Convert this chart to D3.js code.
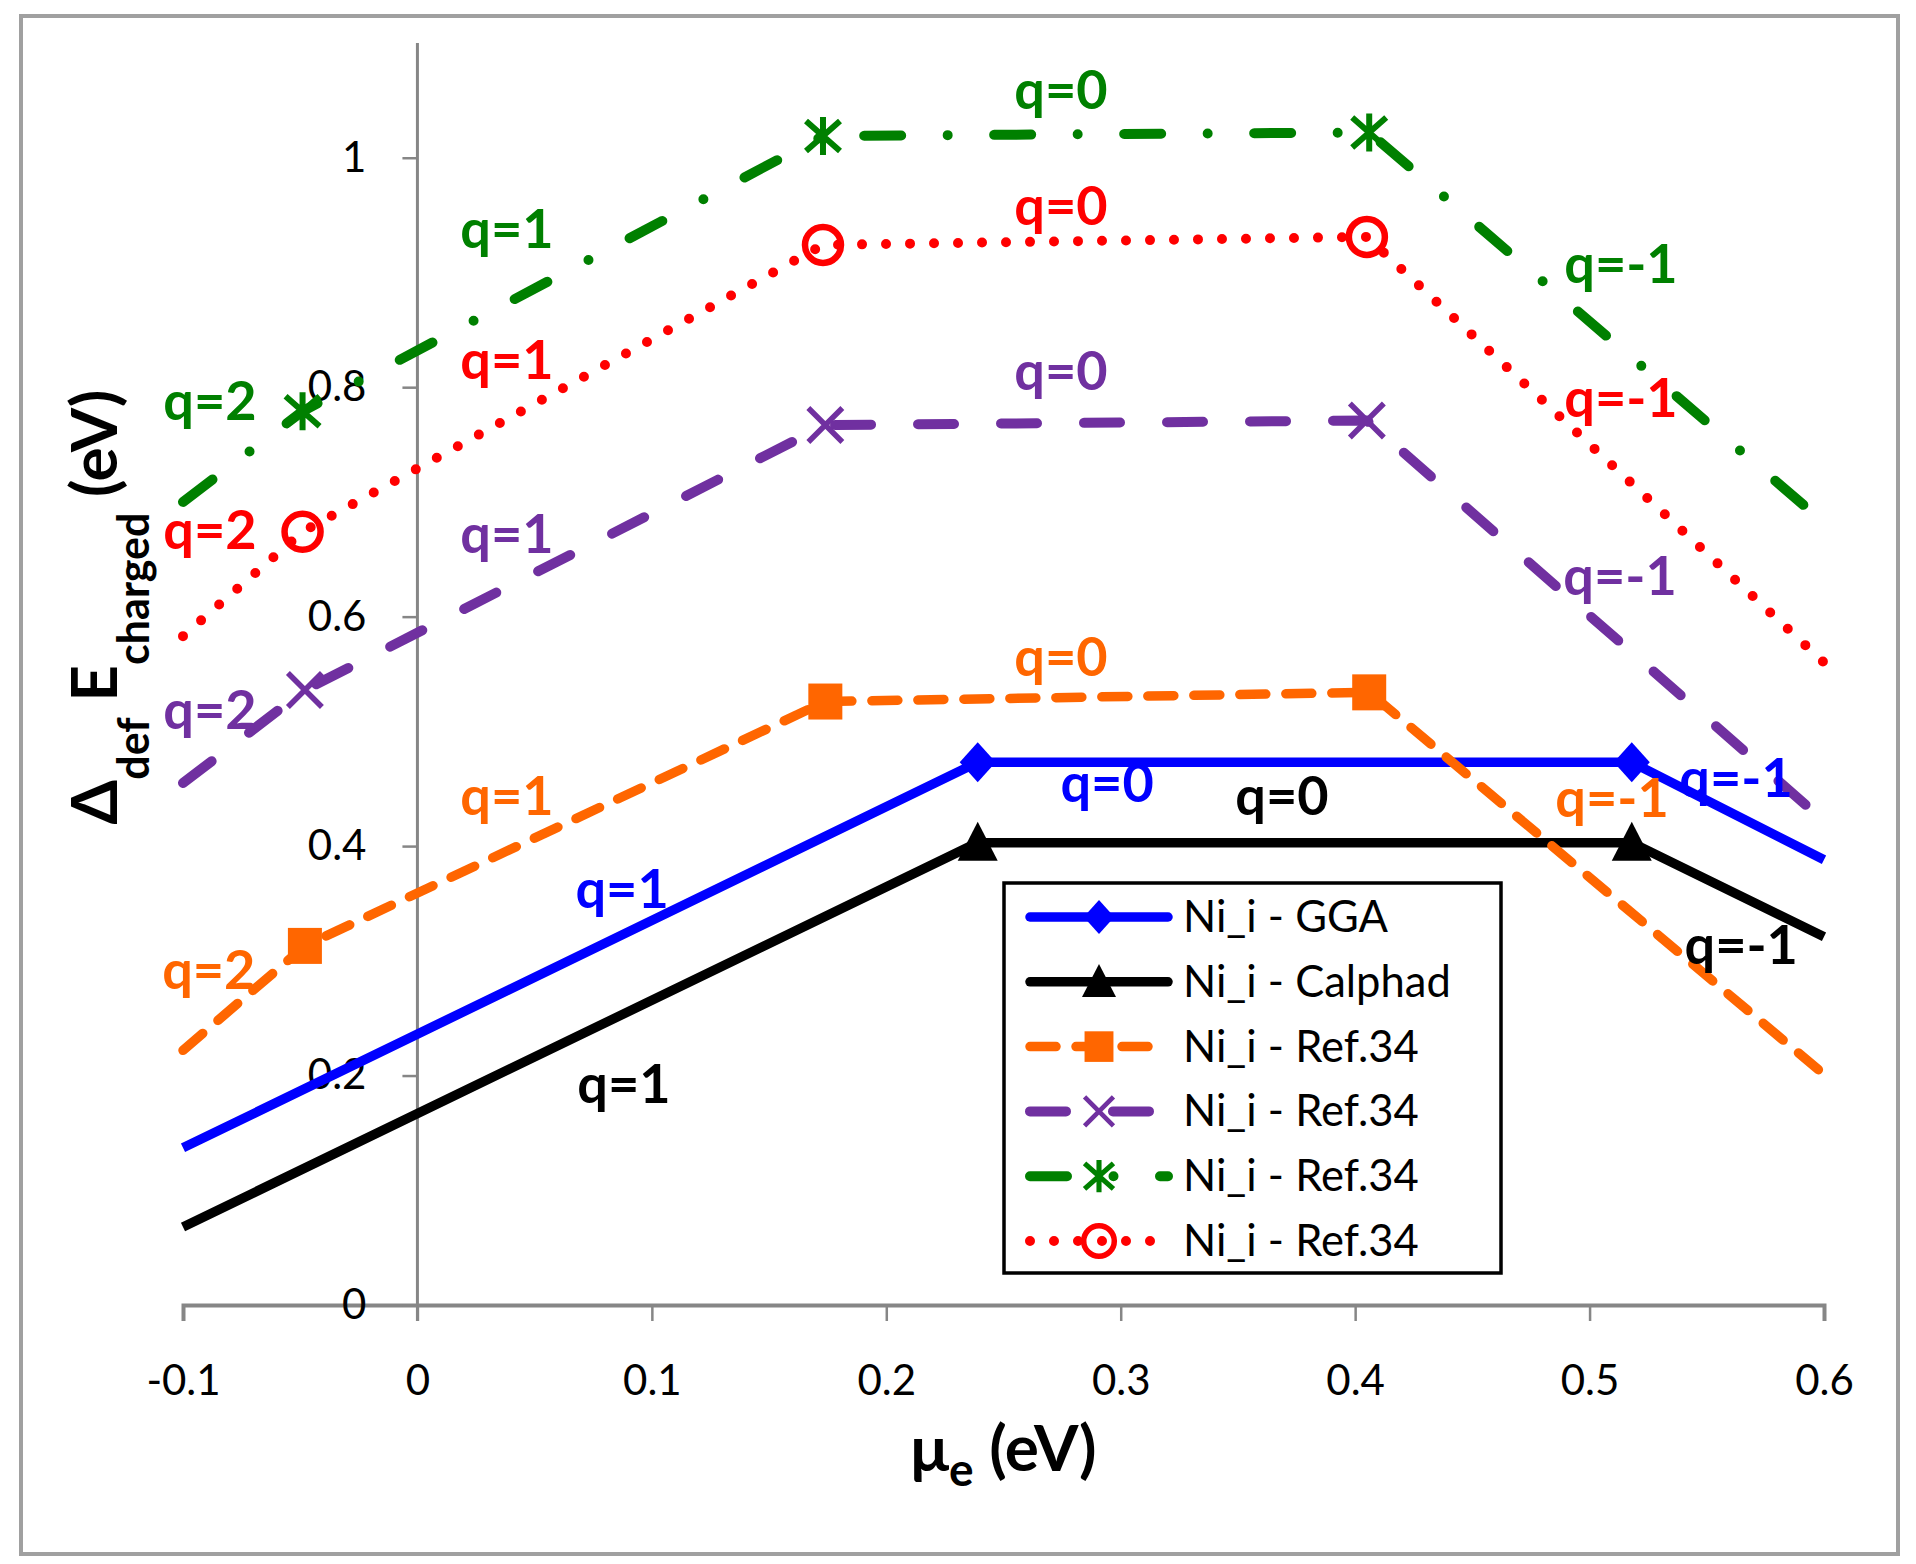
<!DOCTYPE html>
<html><head><meta charset="utf-8">
<script src="https://cdn.jsdelivr.net/npm/d3@7/dist/d3.min.js"></script>
<style>html,body{margin:0;padding:0;background:#fff}</style>
</head><body>
<svg id="chart" width="1916" height="1564"></svg>
<script>
// ---------- data ----------
const xTicks = [-0.1, 0, 0.1, 0.2, 0.3, 0.4, 0.5, 0.6];
const xTickLabels = ["-0.1", "0", "0.1", "0.2", "0.3", "0.4", "0.5", "0.6"];
const yTicks = [0, 0.2, 0.4, 0.6, 0.8, 1];
const yTickLabels = ["0", "0.2", "0.4", "0.6", "0.8", "1"];

const seriesNames = ["Ni_i - GGA", "Ni_i - Calphad", "Ni_i - Ref.34", "Ni_i - Ref.34", "Ni_i - Ref.34", "Ni_i - Ref.34"];

const ggaX = [-0.1, 0.239, 0.518, 0.6];
const ggaY = [0.137, 0.473, 0.473, 0.388];
const calphadX = [-0.1, 0.239, 0.518, 0.6];
const calphadY = [0.068, 0.403, 0.403, 0.321];
const ref34aX = [-0.1, -0.048, 0.174, 0.406, 0.6];
const ref34aY = [0.222, 0.313, 0.526, 0.534, 0.201];
const ref34bX = [-0.1, -0.048, 0.174, 0.405, 0.6];
const ref34bY = [0.455, 0.536, 0.767, 0.771, 0.422];
const ref34cX = [-0.1, -0.049, 0.173, 0.406, 0.6];
const ref34cY = [0.700, 0.779, 1.019, 1.022, 0.682];
const ref34dX = [-0.1, -0.049, 0.173, 0.405, 0.6];
const ref34dY = [0.583, 0.674, 0.924, 0.931, 0.560];

// charge-state annotations: [text, series index, x, y] (data units: centre x, baseline y)
const qLabels = [
  ["q=2", 4, -0.0885, 0.771], ["q=1", 4, 0.0382, 0.9215], ["q=0", 4, 0.2745, 1.0427], ["q=-1", 4, 0.5134, 0.891],
  ["q=2", 5, -0.0885, 0.659], ["q=1", 5, 0.0382, 0.807], ["q=0", 5, 0.2745, 0.9416], ["q=-1", 5, 0.5134, 0.7742],
  ["q=2", 3, -0.0885, 0.502], ["q=1", 3, 0.0382, 0.6556], ["q=0", 3, 0.2745, 0.7977], ["q=-1", 3, 0.513, 0.619],
  ["q=2", 2, -0.0890, 0.2755], ["q=1", 2, 0.0382, 0.427], ["q=0", 2, 0.2745, 0.5484], ["q=-1", 2, 0.5096, 0.4255],
  ["q=1", 0, 0.0873, 0.346], ["q=0", 0, 0.2942, 0.4385], ["q=-1", 0, 0.5625, 0.4429],
  ["q=1", 1, 0.0881, 0.176], ["q=0", 1, 0.3688, 0.4272], ["q=-1", 1, 0.5647, 0.2973]
];

// ---------- styles ----------
const styles = [
  {color: "#0000ff", width: 9.5, dash: null, marker: "diamond"},
  {color: "#000000", width: 9.5, dash: null, marker: "triangle"},
  {color: "#ff6600", width: 9.5, dash: "26,20", marker: "square"},
  {color: "#7030a0", width: 10, dash: "36,47", marker: "x"},
  {color: "#008000", width: 10, dash: "37,46.5,0,46.5", marker: "star"},
  {color: "#ff0000", width: 10, dash: "0,24", marker: "circle"}
];
const seriesX = [ggaX, calphadX, ref34aX, ref34bX, ref34cX, ref34dX];
const seriesY = [ggaY, calphadY, ref34aY, ref34bY, ref34cY, ref34dY];

const FONT = "Lato, 'Open Sans', 'DejaVu Sans', sans-serif";
const svg = d3.select("#chart");

// outer frame
svg.append("rect").attr("x", 21).attr("y", 16).attr("width", 1877).attr("height", 1538)
  .attr("fill", "#fff").attr("stroke", "#a0a0a0").attr("stroke-width", 4);

const x = d3.scaleLinear().domain([-0.1, 0.6]).range([183, 1824]);
const y = d3.scaleLinear().domain([0, 1.1]).range([1305, 43]);

// axes
const axisColor = "#868686";
const gx = svg.append("g").attr("transform", `translate(0,${y(0)})`)
  .call(d3.axisBottom(x).tickValues(xTicks).tickSize(16).tickFormat((d, i) => xTickLabels[i]).tickPadding(44));
gx.select(".domain").attr("stroke", axisColor).attr("stroke-width", 4);
gx.selectAll(".tick line").attr("stroke", axisColor).attr("stroke-width", 2.5);
gx.selectAll(".tick text").attr("font-family", FONT).attr("font-size", 42).attr("fill", "#000");

const gy = svg.append("g").attr("transform", `translate(${x(0)},0)`)
  .call(d3.axisLeft(y).tickValues(yTicks).tickSize(15).tickSizeOuter(0).tickFormat((d, i) => yTickLabels[i]).tickPadding(36));
gy.select(".domain").attr("stroke", axisColor).attr("stroke-width", 3).attr("d", `M0,${y(1.1)}V${y(0) + 16}`);
gy.selectAll(".tick line").attr("stroke", axisColor).attr("stroke-width", 2.5);
gy.selectAll(".tick text").attr("font-family", FONT).attr("font-size", 42).attr("fill", "#000");

// marker drawing
function drawMarker(g, type, color, cx, cy, s) {
  s = s || 1;
  const m = g.append("g").attr("transform", `translate(${cx},${cy}) scale(${s})`);
  if (type === "diamond") {
    m.append("path").attr("d", "M0,-20L18,0L0,20L-18,0Z").attr("fill", color);
  } else if (type === "triangle") {
    m.append("path").attr("d", "M0,-21L20,18L-20,18Z").attr("fill", color);
  } else if (type === "square") {
    m.append("rect").attr("x", -17).attr("y", -18).attr("width", 34).attr("height", 36).attr("fill", color);
  } else if (type === "x") {
    m.append("path").attr("d", "M-17,-17L17,17M17,-17L-17,17").attr("stroke", color).attr("stroke-width", 5.5).attr("fill", "none");
  } else if (type === "star") {
    m.append("path").attr("d", "M-17,-15L17,15M17,-15L-17,15M0,-19V19").attr("stroke", color).attr("stroke-width", 6).attr("fill", "none");
  } else if (type === "circle") {
    m.append("circle").attr("r", 18).attr("stroke", color).attr("stroke-width", 6.5).attr("fill", "none");
  }
}

// series lines + markers
const line = d3.line().x(d => x(d[0])).y(d => y(d[1]));
seriesX.forEach((xs, i) => {
  const st = styles[i];
  const pts = xs.map((v, k) => [v, seriesY[i][k]]);
  const g = svg.append("g");
  g.append("path").datum(pts).attr("d", line).attr("fill", "none")
    .attr("stroke", st.color).attr("stroke-width", st.width)
    .attr("stroke-dasharray", st.dash).attr("stroke-linecap", st.dash ? "round" : "butt")
    .attr("stroke-linejoin", "round");
  pts.slice(1, -1).forEach(p => drawMarker(g, st.marker, st.color, x(p[0]), y(p[1])));
});

// charge-state labels
svg.append("g").selectAll("text").data(qLabels).join("text")
  .attr("x", d => x(d[2])).attr("y", d => y(d[3]))
  .attr("text-anchor", "middle").attr("font-family", FONT).attr("font-weight", "bold")
  .attr("font-size", 54).attr("fill", d => styles[d[1]].color).text(d => d[0]);

// legend
const lg = svg.append("g");
lg.append("rect").attr("x", 1004).attr("y", 883).attr("width", 497).attr("height", 390)
  .attr("fill", "#fff").attr("stroke", "#000").attr("stroke-width", 3.5);
seriesNames.forEach((name, i) => {
  const st = styles[i];
  const cy = 917 + i * 64.8;
  lg.append("line").attr("x1", 1030).attr("x2", 1168).attr("y1", cy).attr("y2", cy)
    .attr("stroke", st.color).attr("stroke-width", st.width)
    .attr("stroke-dasharray", st.dash).attr("stroke-linecap", "round");
  drawMarker(lg, st.marker, st.color, 1099, cy, 0.85);
  lg.append("text").attr("x", 1183).attr("y", cy + 15).attr("font-family", FONT)
    .attr("font-size", 43.5).attr("fill", "#000").text(name);
});

// axis titles
const xt = svg.append("text").attr("x", (x(-0.1) + x(0.6)) / 2).attr("y", 1471)
  .attr("text-anchor", "middle").attr("font-family", FONT).attr("font-weight", "bold").attr("font-size", 64).attr("fill", "#000");
xt.append("tspan").text("μ");
xt.append("tspan").attr("font-size", 46).attr("dy", 15).text("e");
xt.append("tspan").attr("dy", -15).text(" (eV)");

const yt = svg.append("text").attr("transform", "translate(117,607) rotate(-90)")
  .attr("text-anchor", "middle").attr("font-family", FONT).attr("font-weight", "bold").attr("font-size", 64).attr("fill", "#000");
yt.append("tspan").text("Δ");
yt.append("tspan").attr("font-size", 43).attr("dy", 32).text("def");
yt.append("tspan").attr("dy", -32).text(" E");
yt.append("tspan").attr("font-size", 43).attr("dy", 32).text("charged");
yt.append("tspan").attr("dy", -32).text(" (eV)");
</script>
</body></html>
